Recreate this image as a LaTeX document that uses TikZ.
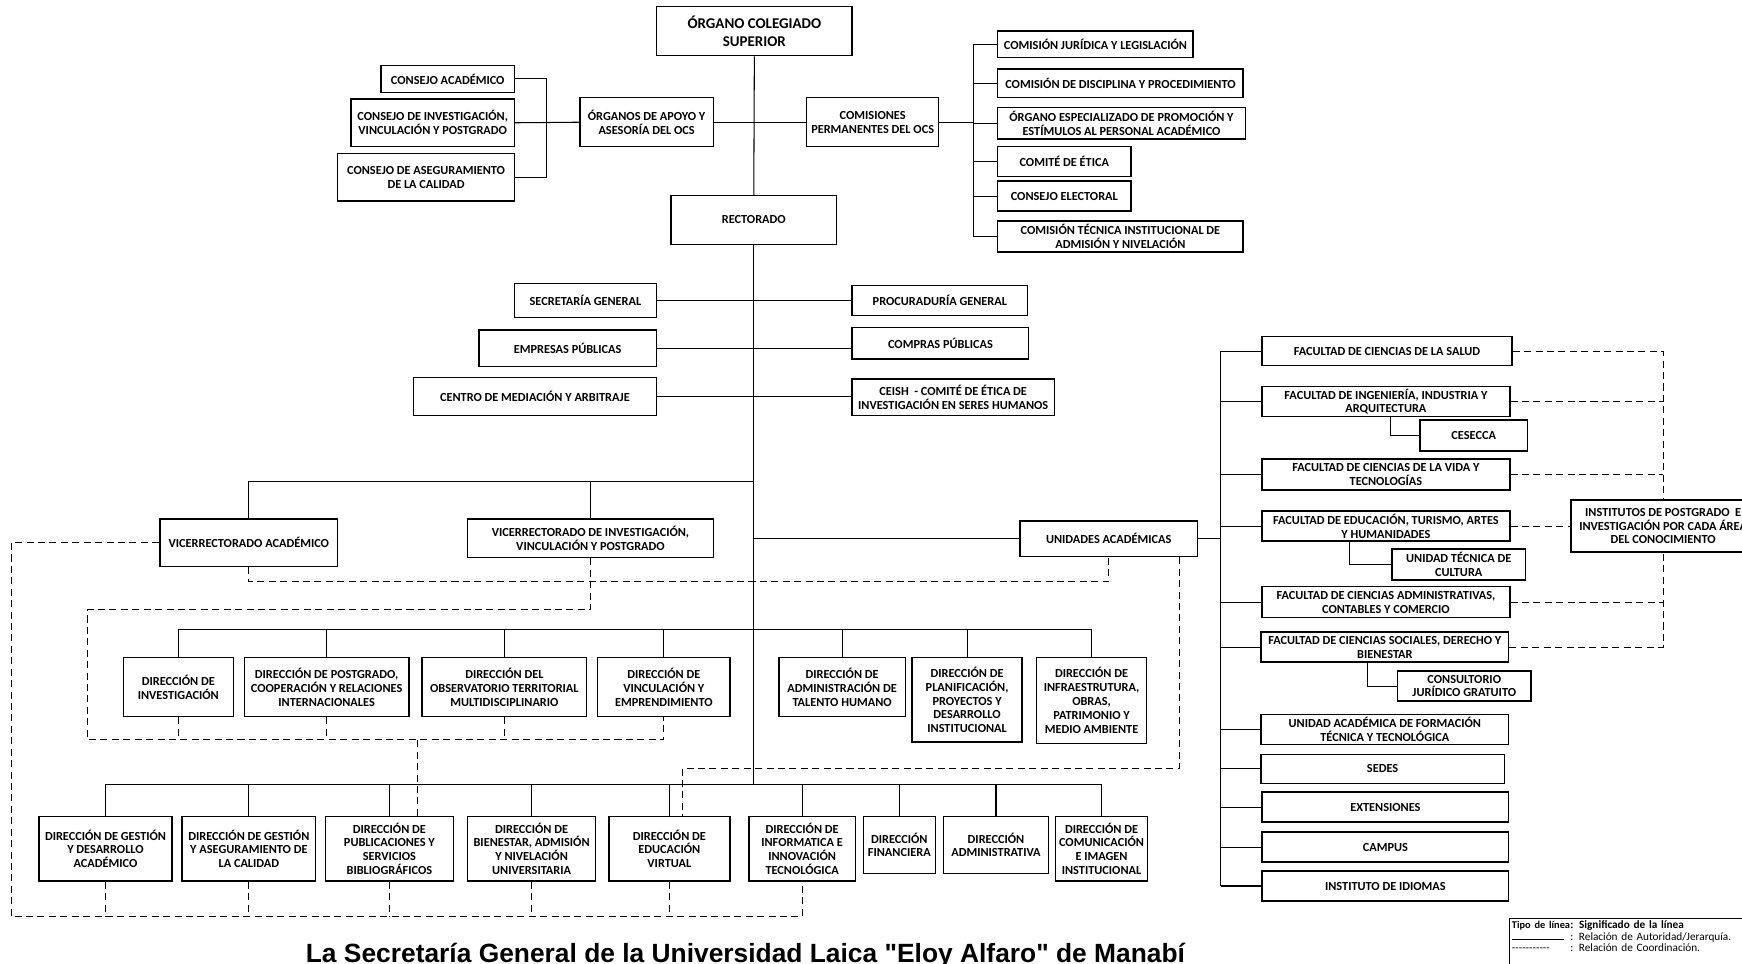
\documentclass[tikz,border=0pt]{standalone}
\usepackage{fontspec}
\setmainfont{Carlito}
\newfontfamily\titlefont{Liberation Sans}
\usetikzlibrary{calc}
\tikzset{
  box/.style={draw, line width=0.8pt, align=center, inner sep=0.5pt, fill=white,
    font=\bfseries\fontsize{7}{7.9}\selectfont},
  big/.style={font=\bfseries\fontsize{8.5}{10}\selectfont},
  con/.style={line width=0.6pt},
  coord/.style={line width=0.6pt, dash pattern=on 4pt off 2.5pt},
}
\newcommand\bx[7][]{\node[box,#1,minimum width={(#5-#3)*0.02222cm},minimum height={(#6-#4)*0.02222cm}] (#2) at ({(#3+#5)/2},{(#4+#6)/2}) {#7};}
\begin{document}
\begin{tikzpicture}[x=0.02222cm, y=-0.02222cm]
\useasboundingbox (0,0) rectangle (1568,867);
% top
\bx[big]{ocs}{591}{6}{767}{50}{ÓRGANO COLEGIADO\\SUPERIOR}
\bx{ca}{343}{59}{463}{83}{CONSEJO ACADÉMICO}
\bx{civ}{316}{89}{463}{132}{CONSEJO DE INVESTIGACIÓN,\\VINCULACIÓN Y POSTGRADO}
\bx{cac}{304}{138}{463}{181}{CONSEJO DE ASEGURAMIENTO\\DE LA CALIDAD}
\bx{oa}{522}{88}{642}{132}{ÓRGANOS DE APOYO Y\\ASESORÍA DEL OCS}
\bx{cp}{726}{88}{845}{132}{COMISIONES\\PERMANENTES DEL OCS}
\bx{k1}{898}{28}{1074}{52}{COMISIÓN JURÍDICA Y LEGISLACIÓN}
\bx{k2}{898}{62}{1119}{88}{COMISIÓN DE DISCIPLINA Y PROCEDIMIENTO}
\bx{k3}{898}{97}{1121}{125}{ÓRGANO ESPECIALIZADO DE PROMOCIÓN Y\\ESTÍMULOS AL PERSONAL ACADÉMICO}
\bx{k4}{898}{132}{1018}{159}{COMITÉ DE ÉTICA}
\bx{k5}{898}{163}{1018}{190}{CONSEJO ELECTORAL}
\bx{k6}{898}{199}{1119}{227}{COMISIÓN TÉCNICA INSTITUCIONAL DE\\ADMISIÓN Y NIVELACIÓN}
\bx{rec}{604}{176}{753}{220}{RECTORADO}
% staff
\bx{sg}{463}{255}{591}{286}{SECRETARÍA GENERAL}
\bx{pg}{767}{257}{925}{284}{PROCURADURÍA GENERAL}
\bx{ep}{431}{297}{591}{330}{EMPRESAS PÚBLICAS}
\bx{cpu}{767}{295}{926}{323}{COMPRAS PÚBLICAS}
\bx{cm}{372}{340}{591}{374}{CENTRO DE MEDIACIÓN Y ARBITRAJE}
\bx{ceish}{767}{341}{949}{374}{CEISH\ \ - COMITÉ DE ÉTICA DE\\INVESTIGACIÓN EN SERES HUMANOS}
% vice
\bx{va}{144}{467}{304}{510}{VICERRECTORADO ACADÉMICO}
\bx{vi}{421}{467}{642}{502}{VICERRECTORADO DE INVESTIGACIÓN,\\VINCULACIÓN Y POSTGRADO}
\bx{ua}{918}{469}{1078}{501}{UNIDADES ACADÉMICAS}
% middle row
\bx{d1}{111}{592}{210}{645}{DIRECCIÓN DE\\INVESTIGACIÓN}
\bx{d2}{220}{592}{368}{645}{DIRECCIÓN DE POSTGRADO,\\COOPERACIÓN Y RELACIONES\\INTERNACIONALES}
\bx{d3}{380}{592}{528}{645}{DIRECCIÓN DEL\\OBSERVATORIO TERRITORIAL\\MULTIDISCIPLINARIO}
\bx{d4}{538}{592}{657}{645}{DIRECCIÓN DE\\VINCULACIÓN Y\\EMPRENDIMIENTO}
\bx{d5}{701}{592}{815}{645}{DIRECCIÓN DE\\ADMINISTRACIÓN DE\\TALENTO HUMANO}
\bx{d6}{821}{592}{920}{668}{DIRECCIÓN DE\\PLANIFICACIÓN,\\PROYECTOS Y\\DESARROLLO\\INSTITUCIONAL}
\bx{d7}{933}{592}{1032}{669}{DIRECCIÓN DE\\INFRAESTRUTURA,\\OBRAS,\\PATRIMONIO Y\\MEDIO AMBIENTE}
% bottom row
\bx{b1}{35}{735}{155}{793}{DIRECCIÓN DE GESTIÓN\\Y DESARROLLO\\ACADÉMICO}
\bx{b2}{164}{735}{284}{793}{DIRECCIÓN DE GESTIÓN\\Y ASEGURAMIENTO DE\\LA CALIDAD}
\bx{b3}{293}{735}{408}{793}{DIRECCIÓN DE\\PUBLICACIONES Y\\SERVICIOS\\BIBLIOGRÁFICOS}
\bx{b4}{421}{735}{536}{793}{DIRECCIÓN DE\\BIENESTAR, ADMISIÓN\\Y NIVELACIÓN\\UNIVERSITARIA}
\bx{b5}{548}{735}{657}{793}{DIRECCIÓN DE\\EDUCACIÓN\\VIRTUAL}
\bx{b6}{674}{735}{770}{793}{DIRECCIÓN DE\\INFORMATICA E\\INNOVACIÓN\\TECNOLÓGICA}
\bx{b7}{777}{735}{842}{786}{DIRECCIÓN\\FINANCIERA}
\bx{b8}{849}{735}{944}{786}{DIRECCIÓN\\ADMINISTRATIVA}
\bx{b9}{950}{735}{1033}{793}{DIRECCIÓN DE\\COMUNICACIÓN\\E IMAGEN\\INSTITUCIONAL}
% right side
\bx{f1}{1136}{303}{1361}{329}{FACULTAD DE CIENCIAS DE LA SALUD}
\bx{f2}{1136}{348}{1359}{375}{FACULTAD DE INGENIERÍA, INDUSTRIA Y\\ARQUITECTURA}
\bx{ces}{1278}{378}{1375}{406}{CESECCA}
\bx{f3}{1136}{413}{1359}{441}{FACULTAD DE CIENCIAS DE LA VIDA Y\\TECNOLOGÍAS}
\bx{f4}{1136}{460}{1359}{487}{FACULTAD DE EDUCACIÓN, TURISMO, ARTES\\Y HUMANIDADES}
\bx{utc}{1253}{494}{1373}{522}{UNIDAD TÉCNICA DE\\CULTURA}
\bx{f5}{1136}{528}{1359}{556}{FACULTAD DE CIENCIAS ADMINISTRATIVAS,\\CONTABLES Y COMERCIO}
\bx{f6}{1135}{569}{1358}{596}{FACULTAD DE CIENCIAS SOCIALES, DERECHO Y\\BIENESTAR}
\bx{cjg}{1258}{604}{1378}{631}{CONSULTORIO\\JURÍDICO GRATUITO}
\bx{f7}{1135}{643}{1358}{670}{UNIDAD ACADÉMICA DE FORMACIÓN\\TÉCNICA Y TECNOLÓGICA}
\bx{f8}{1135}{679}{1354}{705}{SEDES}
\bx{f9}{1136}{713}{1358}{740}{EXTENSIONES}
\bx{f10}{1136}{749}{1358}{776}{CAMPUS}
\bx{f11}{1136}{784}{1358}{811}{INSTITUTO DE IDIOMAS}
\bx{inst}{1414}{450}{1580}{497}{INSTITUTOS DE POSTGRADO\ \ E\\INVESTIGACIÓN POR CADA ÁREA\\DEL CONOCIMIENTO}
% coordinates
\coordinate (vbus) at (0,433);
\coordinate (mbus) at (0,567);
\coordinate (bbus) at (0,706);
\coordinate (bl) at (492,0);
\coordinate (br) at (876,0);
\coordinate (rb) at (1099,0);
% solid connectors
\draw[con] (ocs.south) -- (rec.north);
\draw[con] (rec.south) -- (rec.south |- bbus);
\draw[con] (ca.east) -- (ca.east -| bl) -- (cac.east -| bl) -- (cac.east);
\draw[con] (civ.east) -- (oa.west);
\draw[con] (oa.east) -- (cp.west);
\draw[con] (cp.east) -- (cp.east -| br);
\draw[con] (k1.west -| br) -- (k6.west -| br);
\foreach \n in {k1,k2,k3,k4,k5,k6} \draw[con] (\n.west -| br) -- (\n.west);
\draw[con] (sg.east) -- (pg.west);
\draw[con] (ep.east) -- (ep.east -| cpu.west);
\draw[con] (cm.east) -- (cm.east -| ceish.west);
\draw[con] (rec.south |- vbus) -| (va.north);
\draw[con] (vi.north |- vbus) -- (vi.north);
\draw[con] (ua.west) -- (ua.west -| rec.south);
\draw[con] (d1.north |- mbus) -- (d7.north |- mbus);
\foreach \n in {d1,d2,d3,d4,d5,d6,d7} \draw[con] (\n.north |- mbus) -- (\n.north);
\draw[con] (b1.north |- bbus) -- (b9.north |- bbus);
\foreach \n in {b1,b2,b3,b4,b5,b6,b7,b8,b9} \draw[con] (\n.north |- bbus) -- (\n.north);
\draw[con] (ua.east) -- (ua.east -| rb);
\draw[con] (f1.west -| rb) -- (f11.west -| rb);
\foreach \n in {f1,f2,f3,f4,f5,f6,f7,f8,f9,f10,f11} \draw[con] (\n.west -| rb) -- (\n.west);
\draw[con] ($(f2.south west)!0.52!(f2.south east)$) |- (ces.west);
\draw[con] ($(f4.south west)!0.354!(f4.south east)$) |- (utc.west);
\draw[con] ($(f6.south west)!0.43!(f6.south east)$) |- (cjg.west);
% coordination (dashed)
\coordinate (l1) at (10,825);
\draw[coord] (va.west) -| (l1) -| (b6.south);
\foreach \n in {b1,b2,b3,b4,b5} \draw[coord] (\n.south) -- (\n.south |- l1);
\draw[coord] (va.south) -- ++(0,13) -| (ua.south);
\coordinate (m1) at (79,549);
\coordinate (m2) at (79,666);
\draw[coord] (vi.south) |- (m1) -- (m2) -| (d4.south);
\foreach \n in {d1,d2,d3} \draw[coord] (\n.south) -- (\n.south |- m2);
\draw[coord] ($(b3.north west)!0.72!(b3.north east)$) coordinate (b3t) -- (b3t |- m2);
\draw[coord] ($(ua.south west)!0.894!(ua.south east)$) -- ++(0,190) -| ($(b5.north west)!0.606!(b5.north east)$);
\draw[coord] (f1.east) -| (inst.north);
\draw[coord] (f2.east) -- (f2.east -| inst.north);
\draw[coord] (f3.east) -- (f3.east -| inst.north);
\draw[coord] (f4.east) -- (inst.west);
\draw[coord] (f5.east) -- (f5.east -| inst.south);
\draw[coord] (f6.east) -| (inst.south);
% legend
\node[draw, line width=0.7pt, anchor=north west, align=left, inner xsep=1.5pt, inner ysep=1.5pt,
  font=\fontsize{6.4}{6.4}\selectfont, text width=5.6cm]
  (leg) at (1358,826) {\makebox[1.13cm][l]{\bfseries\fontsize{5.9}{6}\selectfont Tipo de línea}\textbf{\,: Significado de la línea}\\
  \makebox[1.13cm][l]{\rule{1.05cm}{0.4pt}}\,: Relación de Autoridad/Jerarquía.\\
  \makebox[1.13cm][l]{-{}-{}-{}-{}-{}-{}-{}-{}-{}-{}-}\,: Relación de Coordinación.\\ \ \\ \ \\ \ };
% title
\node[font=\titlefont\bfseries\fontsize{15}{17}\selectfont, anchor=base, inner sep=0pt] (title) at (671,866)
  {La Secretaría General de la Universidad Laica "Eloy Alfaro" de Manabí};
\end{tikzpicture}
\end{document}
